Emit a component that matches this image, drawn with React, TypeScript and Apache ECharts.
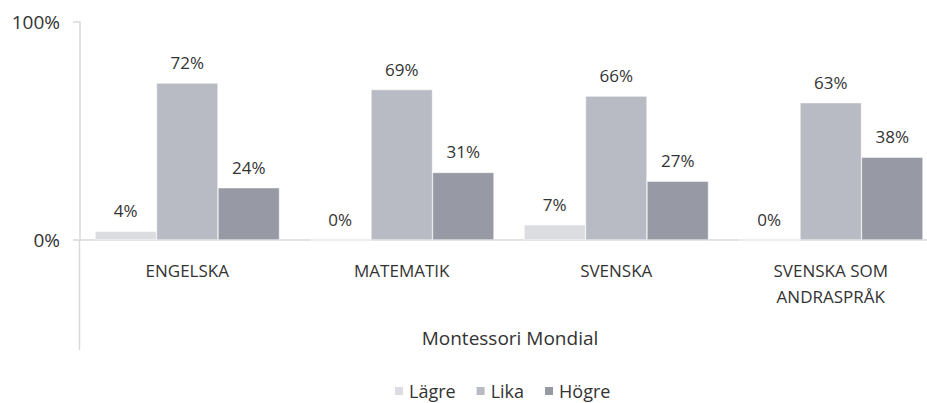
import React, { useEffect, useRef } from "react";
import * as echarts from "echarts";

const categories = ["ENGELSKA", "MATEMATIK", "SVENSKA", "SVENSKA SOM\nANDRASPRÅK"];
const seriesNames = ["Lägre", "Lika", "Högre"];
const lagre = [4, 0, 7, 0];
const lika = [72, 69, 66, 63];
const hogre = [24, 31, 27, 38];
const yTicks = [0, 100];
const groupLabel = "Montessori Mondial";

const colors = ["#dcdde1", "#b8bbc3", "#979aa4"];
const FONT = "Open Sans";
const TEXT = "#333333";

export default function App() {
  const ref = useRef<HTMLDivElement>(null);
  useEffect(() => {
    document.body.style.margin = "0";
    const chart = echarts.init(ref.current!, null, { renderer: "svg" });
    const data = [lagre, lika, hogre];
    chart.setOption({
      animation: false,
      textStyle: { fontFamily: FONT, color: TEXT },
      grid: { left: 80, right: 0, top: 22, height: 218 },
      legend: {
        left: 393,
        top: 382,
        padding: 0,
        itemWidth: 10,
        itemHeight: 10,
        itemGap: 19,
        icon: "rect",
        data: seriesNames,
        textStyle: { fontFamily: FONT, fontSize: 18, color: TEXT },
      },
      xAxis: {
        type: "category",
        data: categories,
        axisLine: { lineStyle: { color: "#d9d9d9", width: 1.5 } },
        axisTick: { show: false },
        axisLabel: {
          interval: 0,
          margin: 17,
          fontFamily: FONT,
          fontSize: 17,
          color: TEXT,
          lineHeight: 26,
          verticalAlign: "top",
        },
      },
      yAxis: {
        type: "value",
        min: yTicks[0],
        max: yTicks[yTicks.length - 1],
        interval: 100,
        axisLine: { show: true, lineStyle: { color: "#d9d9d9", width: 1.5 } },
        axisTick: { show: true, length: 7, lineStyle: { color: "#d9d9d9", width: 1.5 } },
        splitLine: { show: false },
        axisLabel: {
          margin: 20,
          fontFamily: FONT,
          fontSize: 19,
          color: TEXT,
          formatter: (v: number) => `${v}%`,
        },
      },
      series: seriesNames.map((name, i) => ({
        name,
        type: "bar",
        data: data[i],
        barGap: "0%",
        barCategoryGap: "14%",
        itemStyle: { color: colors[i], borderColor: "#ffffff", borderWidth: 0.5 },
        label: {
          show: true,
          position: "top",
          distance: 12,
          fontFamily: FONT,
          fontSize: 17,
          color: TEXT,
          formatter: (p: any) => `${p.value}%`,
        },
      })),
      graphic: [
        {
          type: "line",
          shape: { x1: 79.5, y1: 240, x2: 79.5, y2: 350 },
          style: { stroke: "#d9d9d9", lineWidth: 1.5 },
          silent: true,
        },
        {
          type: "text",
          x: 510,
          y: 338,
          style: {
            text: groupLabel,
            font: `19px "${FONT}"`,
            fill: TEXT,
            align: "center",
            verticalAlign: "middle",
          },
        },
      ],
    });
    return () => chart.dispose();
  }, []);
  return (
    <div style={{ width: 927, height: 403, overflow: "hidden", position: "relative" }}>
      <div ref={ref} style={{ width: 938, height: 403 }} />
    </div>
  );
}
